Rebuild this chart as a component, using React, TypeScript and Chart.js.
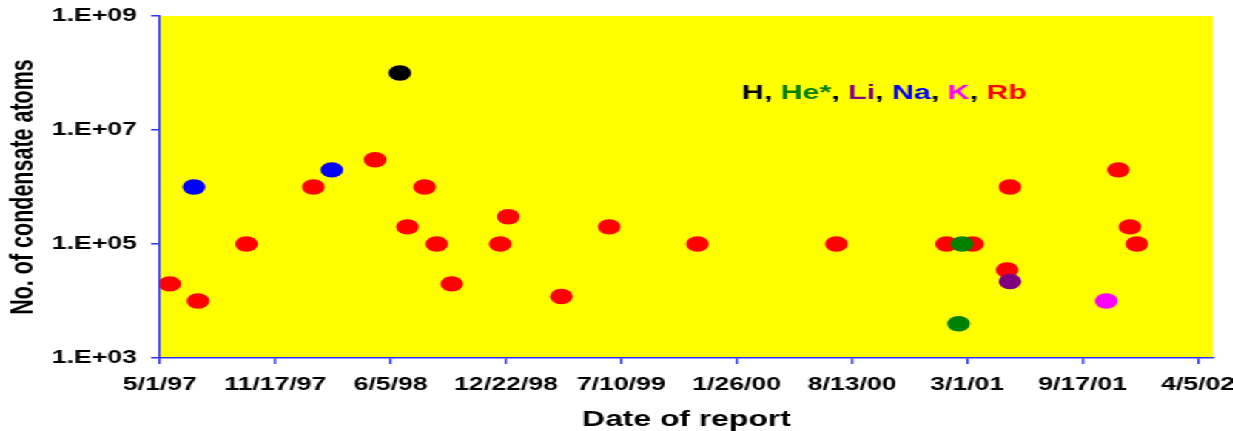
import React, { useEffect, useRef } from "react";
import { Chart, registerables } from "chart.js";

Chart.register(...registerables);

// ---------- data ----------
const startDate = "1997-05-01";
const endDate = "2002-05-01";
const xTickDates = ["1997-05-01", "1997-11-17", "1998-06-05", "1998-12-22", "1999-07-10", "2000-01-26", "2000-08-13", "2001-03-01", "2001-09-17", "2002-04-05"];
const yTicks = [1e3, 1e5, 1e7, 1e9];

const hDates = ["1998-06-21"];
const hValues = [1e8];

const heDates = ["2001-02-20", "2001-02-14"];
const heValues = [1e5, 4e3];

const liDates = ["2001-05-14"];
const liValues = [2.2e4];

const naDates = ["1997-06-29", "1998-02-23"];
const naValues = [1e6, 2e6];

const kDates = ["2001-10-28"];
const kValues = [1e4];

const rbDates = [
  "1997-05-18", "1997-07-06", "1997-09-28", "1998-01-22", "1998-05-09", "1998-07-04",
  "1998-08-03", "1998-08-24", "1998-09-19", "1998-12-12", "1998-12-26", "1999-03-28",
  "1999-06-19", "1999-11-19", "2000-07-17", "2001-01-24", "2001-03-10", "2001-05-14",
  "2001-05-09", "2001-11-18", "2001-12-08", "2001-12-20",
];
const rbValues = [
  2e4, 1e4, 1e5, 1e6, 3e6, 2e5,
  1e6, 1e5, 2e4, 1e5, 3e5, 1.2e4,
  2e5, 1e5, 1e5, 1e5, 1e5, 1e6,
  3.5e4, 2e6, 2e5, 1e5,
];

const legendParts = [
  { text: "H", color: "#000000" },
  { text: ", ", color: "#000000" },
  { text: "He*", color: "#008000" },
  { text: ", ", color: "#000000" },
  { text: "Li", color: "#800080" },
  { text: ", ", color: "#000000" },
  { text: "Na", color: "#0000ff" },
  { text: ", ", color: "#000000" },
  { text: "K", color: "#ff00ff" },
  { text: ", ", color: "#000000" },
  { text: "Rb", color: "#ff0000" },
];

// ---------- helpers ----------
const DAY = 86400000;
const toMs = (s: string) => {
  const [y, m, d] = s.split("-").map(Number);
  return Date.UTC(y, m - 1, d);
};
const dayOf = (s: string) => Math.round((toMs(s) - toMs(startDate)) / DAY);
const fmtDay = (v: number) => {
  const d = new Date(toMs(startDate) + v * DAY);
  const yy = String(d.getUTCFullYear() % 100).padStart(2, "0");
  return `${d.getUTCMonth() + 1}/${d.getUTCDate()}/${yy}`;
};
const fmtExp = (v: number) => {
  const e = Math.round(Math.log10(v));
  return `1.E+${String(e).padStart(2, "0")}`;
};
const pts = (dates: string[], vals: number[]) => dates.map((d, i) => ({ x: dayOf(d), y: vals[i] }));

const S = 1.48; // horizontal stretch of the original picture
const W = 1233 / S;
const H = 431;
const AXIS = "#3030ff";
const FONT = "'Liberation Sans', Arial, sans-serif";

export default function App() {
  const ref = useRef<HTMLCanvasElement | null>(null);

  useEffect(() => {
    if (!ref.current) return;
    const mk = (label: string, dates: string[], vals: number[], color: string) => ({
      label,
      data: pts(dates, vals),
      backgroundColor: color,
      borderColor: color,
      borderWidth: 0,
      pointRadius: 7.7,
      pointHoverRadius: 7.7,
      pointStyle: "circle",
      showLine: false,
    });

    const bgPlugin = {
      id: "bg",
      beforeDraw(chart: any) {
        const { ctx, chartArea } = chart;
        ctx.save();
        ctx.fillStyle = "#ffff00";
        ctx.fillRect(chartArea.left, chartArea.top, chartArea.right - chartArea.left, chartArea.bottom - chartArea.top);
        ctx.restore();
      },
      afterDraw(chart: any) {
        const { ctx } = chart;
        ctx.save();
        ctx.font = `bold 20.5px ${FONT}`;
        ctx.textBaseline = "middle";
        ctx.textAlign = "left";
        let x = 742 / S;
        const y = 93;
        for (const p of legendParts) {
          ctx.fillStyle = p.color;
          ctx.fillText(p.text, x, y);
          x += ctx.measureText(p.text).width;
        }
        ctx.restore();
      },
    };

    const chart = new Chart(ref.current, {
      type: "scatter",
      data: {
        datasets: [
          mk("H", hDates, hValues, "#000000"),
          mk("He*", heDates, heValues, "#008000"),
          mk("Li", liDates, liValues, "#800080"),
          mk("Na", naDates, naValues, "#0000ff"),
          mk("K", kDates, kValues, "#ff00ff"),
          mk("Rb", rbDates, rbValues, "#ff0000"),
        ],
      },
      options: {
        animation: false,
        responsive: true,
        maintainAspectRatio: false,
        layout: { padding: { left: 0, right: W - 1213 / S, top: 16, bottom: 0 } },
        plugins: { legend: { display: false }, tooltip: { enabled: false } },
        scales: {
          x: {
            type: "linear",
            min: 0,
            max: dayOf(endDate),
            afterBuildTicks: (axis: any) => {
              axis.ticks = xTickDates.map((d) => ({ value: dayOf(d) }));
            },
            afterFit: (axis: any) => {
              axis.height = H - 358;
              axis.paddingLeft = 0;
              axis.paddingRight = 0;
            },
            grid: { drawOnChartArea: false, drawTicks: true, tickLength: 6, color: AXIS, lineWidth: 1.5 },
            border: { display: true, color: AXIS, width: 1.5 },
            ticks: {
              autoSkip: false,
              maxRotation: 0,
              padding: 12,
              color: "#000000",
              font: { family: FONT, size: 18, weight: "bold", lineHeight: 1 },
              callback: (v: any) => fmtDay(Number(v)),
            },
            title: {
              display: true,
              text: "Date of report",
              color: "#000000",
              padding: { top: 0, bottom: 0 },
              font: { family: FONT, size: 21.5, weight: "bold", lineHeight: 1 },
            },
          },
          y: {
            type: "logarithmic",
            min: 1e3,
            max: 1e9,
            afterBuildTicks: (axis: any) => {
              axis.ticks = yTicks.map((v) => ({ value: v }));
            },
            afterFit: (axis: any) => {
              axis.width = 160 / S;
              axis.paddingTop = 0;
              axis.paddingBottom = 0;
            },
            grid: { drawOnChartArea: false, drawTicks: true, tickLength: 6, color: AXIS, lineWidth: 1.5 },
            border: { display: true, color: AXIS, width: 1.4 },
            ticks: {
              autoSkip: false,
              padding: 9.5,
              color: "#000000",
              font: { family: FONT, size: 18, weight: "bold", lineHeight: 1 },
              callback: (v: any) => fmtExp(Number(v)),
            },
            title: {
              display: true,
              text: "No. of condensate atoms",
              color: "#000000",
              padding: { top: 5, bottom: 0 },
              font: { family: FONT, size: 21.5, weight: "bold", lineHeight: 1 },
            },
          },
        },
      },
      plugins: [bgPlugin],
    } as any);
    return () => chart.destroy();
  }, []);

  return (
    <div
      style={{
        position: "absolute",
        left: 0,
        top: 0,
        width: `${W}px`,
        height: `${H}px`,
        transform: `scaleX(${S})`,
        transformOrigin: "0 0",
        background: "#ffffff",
      }}
    >
      <canvas ref={ref} />
    </div>
  );
}
